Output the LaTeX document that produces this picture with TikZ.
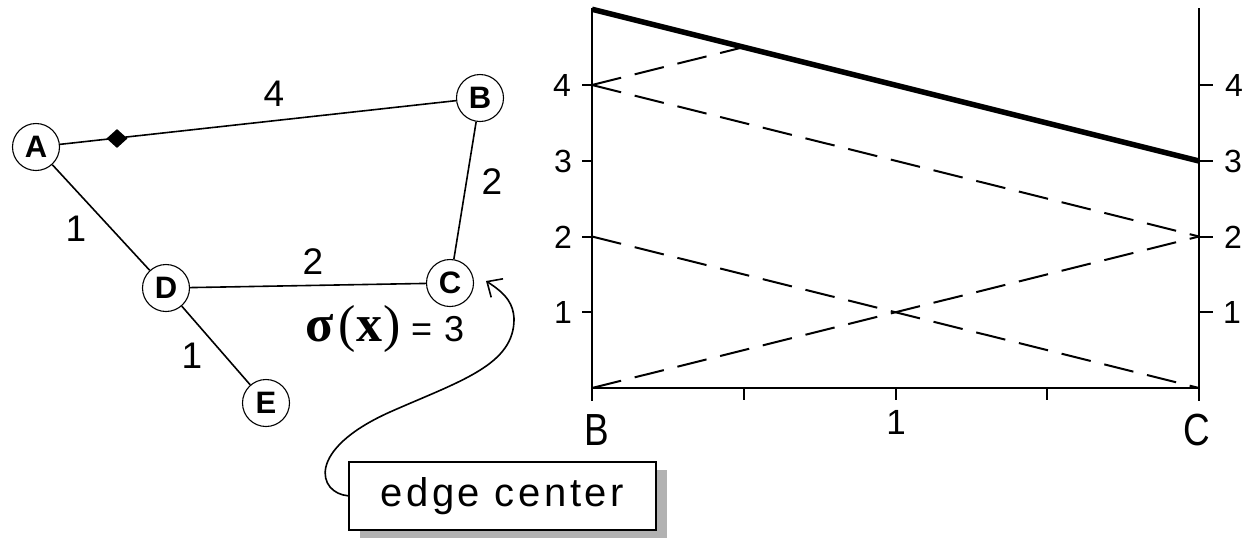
\documentclass[tikz,border=0pt]{standalone}
\usepackage{fontspec}
\setmainfont{Liberation Sans}
\newfontfamily\serifgreek{Liberation Serif}
\newfontfamily\boxfont[LetterSpace=9]{Liberation Sans}
\usetikzlibrary{arrows.meta,shapes.geometric}
\begin{document}
\begin{tikzpicture}[x=1pt,y=-1pt,
  gnode/.style={circle,draw,line width=1.1pt,minimum size=47pt,inner sep=0pt,
    font=\fontsize{31}{31}\selectfont\bfseries},
  gedge/.style={line width=1.6pt},
  elabel/.style={inner sep=0pt,font=\fontsize{37}{37}\selectfont},
  ticklabel/.style={inner sep=0pt,font=\fontsize{32}{32}\selectfont},
  endlabel/.style={inner sep=0pt,font=\fontsize{45}{45}\selectfont},
  axisline/.style={line width=2pt},
  ticklines/.style={line width=2pt},
  thickcurve/.style={line width=5.5pt},
  dashcurve/.style={line width=2pt,dash pattern=on 30pt off 14pt},
  callout/.style={draw,line width=1.6pt,fill=white,minimum width=307pt,minimum height=68pt,
    inner sep=0pt,anchor=north west,font=\boxfont\fontsize{40}{40}\selectfont},
  pointer/.style={line width=1.6pt,-{Straight Barb[length=12pt,width=22pt,line width=1.6pt]}}
]
\useasboundingbox (0,0) rectangle (1248,539);
\fill[white] (0,0) rectangle (1248,539);

% ---------- graph ----------
\node[gnode] (A) at (36,147) {A};
\node[gnode] (B) at (480,98) {B};
\node[gnode] (C) at (450,283) {C};
\node[gnode] (D) at (166,288) {D};
\node[gnode] (E) at (266,403) {E};
\node[diamond,fill,inner sep=0pt,minimum width=21pt,minimum height=19pt] (dot) at (117,138.5) {};

\draw[gedge] (A) -- (B);
\draw[gedge] (B) -- (C);
\draw[gedge] (A) -- (D);
\draw[gedge] (D) -- (C);
\draw[gedge] (D) -- (E);

\node[elabel] (w4) at (274,94) {4};
\node[elabel] (w2a) at (492,182) {2};
\node[elabel] (w1a) at (76,229) {1};
\node[elabel] (w2b) at (313,262) {2};
\node[elabel] (w1b) at (192,356) {1};

\node[inner sep=0pt,anchor=base west] (sig) at (305,341)
  {{\fontsize{52}{52}\selectfont\serifgreek\bfseries σ}\hspace{5pt}%
   {\fontsize{52}{52}\selectfont\serifgreek(\hspace{1pt}\textbf{x}\hspace{1pt})}\hspace{10pt}%
   {\fontsize{36}{36}\selectfont =\hspace{12pt}3}};

% ---------- callout ----------
\fill[gray!60] (360,470) rectangle (667,538);
\node[callout] (box) at (348,461) {edge center};
\coordinate (ctip) at (486,281);
\draw[pointer] (box.west) .. controls (318,493) and (305,450) .. (390,412)
  .. controls (460,381) and (515,365) .. (514,318)
  .. controls (513,305) and (508,295) .. (ctip);

% ---------- chart ----------
\coordinate (L0) at (592,388);
\coordinate (L2) at (592,236.5);
\coordinate (L4) at (592,85);
\coordinate (L5) at (592,9.25);
\coordinate (R0) at (1199,388);
\coordinate (R2) at (1199,236.5);
\coordinate (R3) at (1199,161);
\coordinate (M) at (743.75,47.1);

\draw[axisline] (592,8) -- (592,401);
\draw[axisline] (1199,8) -- (1199,401);
\draw[axisline] (L0) -- (R0);

\foreach \yy in {85,160.75,236.5,312.25} {
  \draw[ticklines] (582,\yy) -- (592,\yy);
  \draw[ticklines] (1199,\yy) -- (1213,\yy);
}
\foreach \xx in {743.75,895.5,1047.25} {
  \draw[ticklines] (\xx,388) -- (\xx,400);
}

\draw[dashcurve] (L4) -- (M);
\draw[dashcurve] (L4) -- (R2);
\draw[dashcurve] (L2) -- (R0);
\draw[dashcurve] (L0) -- (R2);
\draw[thickcurve] (L5) -- (R3);

\node[ticklabel] (ly4) at (562,85) {4};
\node[ticklabel] (ly3) at (563,161) {3};
\node[ticklabel] (ly2) at (563,237) {2};
\node[ticklabel] (ly1) at (563,312) {1};
\node[ticklabel] (ry4) at (1234,85) {4};
\node[ticklabel] (ry3) at (1233,161) {3};
\node[ticklabel] (ry2) at (1233,237) {2};
\node[ticklabel] (ry1) at (1232,312) {1};

\node[endlabel] (xB) at (597,430) {\scalebox{0.82}[1]{B}};
\node[endlabel] (xC) at (1197,430) {\scalebox{0.82}[1]{C}};
\node[inner sep=0pt,font=\fontsize{35}{35}\selectfont] (x1) at (896,422) {1};
\end{tikzpicture}
\end{document}
